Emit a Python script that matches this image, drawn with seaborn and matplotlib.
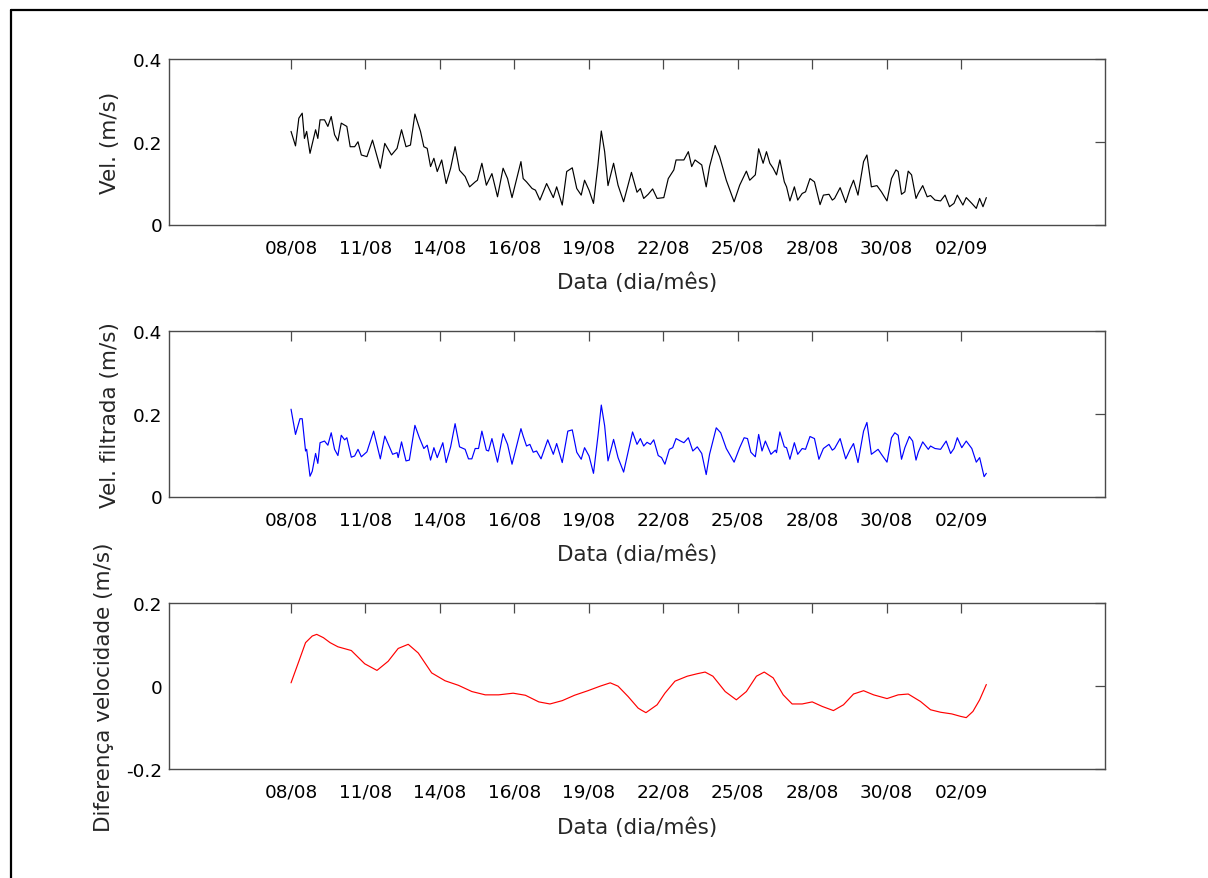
import numpy as np
import pandas as pd
import matplotlib
matplotlib.use("Agg")
import matplotlib.pyplot as plt
from matplotlib.lines import Line2D
import seaborn as sns

# ---------------- data ----------------
tick_labels = ["08/08", "11/08", "14/08", "16/08", "19/08",
               "22/08", "25/08", "28/08", "30/08", "02/09"]

# hours since the first tick (08/08)
vel_hours = [0, 4, 7, 10, 12, 14, 17, 22, 24, 26, 30, 33, 36, 39, 42, 45, 50, 53, 57, 60,
             63, 68, 73, 80, 84, 90, 95, 99, 103, 107, 111, 116, 119, 122, 125, 128, 131, 135, 139, 143,
             147, 151, 156, 160, 165, 167, 171, 175, 180, 185, 190, 194, 198, 206, 208, 211, 216, 219, 223, 229,
             235, 238, 243, 247, 252, 256, 260, 263, 267, 271, 275, 278, 281, 284, 289, 293, 298, 305, 310, 313,
             316, 320, 324, 328, 334, 338, 343, 345, 352, 356, 359, 362, 368, 372, 375, 380, 384, 390, 397, 402,
             408, 411, 416, 419, 423, 426, 429, 432, 435, 438, 442, 444, 447, 451, 454, 458, 461, 465, 469, 474,
             477, 482, 485, 487, 492, 497, 501, 504, 508, 513, 516, 520, 525, 529, 534, 538, 542, 544, 547, 550,
             553, 556, 560, 562, 566, 570, 573, 577, 582, 586, 590, 594, 597, 602, 605, 610, 614, 617, 620, 623]
vel_values = [0.225, 0.190, 0.257, 0.269, 0.208, 0.225, 0.172, 0.229, 0.208, 0.253, 0.253, 0.237, 0.261, 0.217, 0.202, 0.245, 0.237, 0.188, 0.188, 0.200,
              0.168, 0.164, 0.204, 0.136, 0.196, 0.168, 0.184, 0.229, 0.188, 0.192, 0.267, 0.225, 0.188, 0.184, 0.140, 0.160, 0.128, 0.156, 0.099, 0.136,
              0.188, 0.131, 0.116, 0.091, 0.103, 0.107, 0.148, 0.095, 0.123, 0.067, 0.136, 0.111, 0.065, 0.152, 0.111, 0.103, 0.087, 0.083, 0.059, 0.099,
              0.065, 0.091, 0.047, 0.128, 0.137, 0.087, 0.071, 0.107, 0.083, 0.051, 0.144, 0.226, 0.176, 0.094, 0.148, 0.095, 0.055, 0.126, 0.078, 0.087,
              0.063, 0.073, 0.086, 0.063, 0.065, 0.111, 0.132, 0.156, 0.156, 0.176, 0.140, 0.156, 0.144, 0.091, 0.140, 0.191, 0.164, 0.107, 0.055, 0.095,
              0.129, 0.107, 0.120, 0.183, 0.148, 0.176, 0.148, 0.136, 0.120, 0.156, 0.103, 0.091, 0.057, 0.091, 0.059, 0.075, 0.079, 0.111, 0.103, 0.048,
              0.071, 0.073, 0.059, 0.063, 0.089, 0.053, 0.087, 0.107, 0.071, 0.152, 0.168, 0.091, 0.094, 0.079, 0.057, 0.111, 0.132, 0.128, 0.073, 0.079,
              0.129, 0.120, 0.063, 0.075, 0.094, 0.067, 0.070, 0.059, 0.057, 0.071, 0.043, 0.051, 0.071, 0.047, 0.065, 0.051, 0.039, 0.063, 0.043, 0.065]

filt_hours = [0, 4, 8, 10, 13, 14, 17, 19, 22, 24, 26, 30, 33, 36, 39, 42, 45, 48, 50, 54,
              57, 60, 63, 68, 74, 80, 84, 91, 95, 96, 99, 103, 106, 111, 115, 119, 122, 125, 128, 131,
              136, 139, 143, 147, 151, 156, 159, 162, 165, 168, 171, 175, 177, 180, 185, 190, 194, 198, 206, 208,
              211, 214, 217, 220, 224, 230, 235, 238, 243, 248, 252, 256, 260, 263, 267, 271, 275, 278, 281, 284,
              289, 293, 298, 306, 310, 313, 316, 319, 322, 325, 329, 332, 335, 339, 342, 345, 349, 352, 356, 360,
              364, 368, 372, 375, 381, 385, 390, 397, 402, 406, 409, 412, 416, 419, 422, 425, 430, 434, 435, 438,
              442, 444, 447, 451, 454, 458, 461, 465, 469, 473, 477, 482, 485, 487, 492, 497, 501, 504, 508, 513,
              516, 520, 526, 529, 534, 538, 541, 544, 547, 550, 554, 557, 560, 562, 566, 571, 573, 577, 582, 587,
              591, 594, 597, 601, 605, 610, 614, 617, 621, 623]
filt_values = [0.211, 0.150, 0.188, 0.188, 0.110, 0.114, 0.049, 0.061, 0.104, 0.080, 0.130, 0.134, 0.124, 0.154, 0.114, 0.099, 0.148, 0.137, 0.142, 0.095,
               0.098, 0.114, 0.096, 0.108, 0.158, 0.091, 0.146, 0.102, 0.106, 0.094, 0.132, 0.086, 0.088, 0.172, 0.142, 0.116, 0.124, 0.088, 0.118, 0.094,
               0.130, 0.082, 0.120, 0.176, 0.120, 0.114, 0.091, 0.091, 0.116, 0.116, 0.158, 0.112, 0.110, 0.140, 0.083, 0.152, 0.126, 0.078, 0.164, 0.146,
               0.122, 0.126, 0.107, 0.110, 0.091, 0.137, 0.102, 0.128, 0.082, 0.158, 0.161, 0.107, 0.090, 0.118, 0.098, 0.056, 0.146, 0.221, 0.171, 0.086,
               0.138, 0.094, 0.059, 0.156, 0.126, 0.140, 0.122, 0.131, 0.126, 0.137, 0.099, 0.094, 0.078, 0.114, 0.118, 0.140, 0.134, 0.130, 0.142, 0.110,
               0.120, 0.104, 0.053, 0.102, 0.166, 0.154, 0.116, 0.083, 0.118, 0.142, 0.140, 0.107, 0.096, 0.150, 0.110, 0.134, 0.102, 0.112, 0.106, 0.156,
               0.120, 0.118, 0.090, 0.130, 0.102, 0.116, 0.114, 0.145, 0.140, 0.090, 0.116, 0.126, 0.112, 0.116, 0.140, 0.091, 0.114, 0.128, 0.082, 0.158,
               0.179, 0.102, 0.114, 0.102, 0.083, 0.142, 0.154, 0.148, 0.090, 0.118, 0.145, 0.134, 0.088, 0.107, 0.132, 0.114, 0.122, 0.116, 0.114, 0.134,
               0.104, 0.116, 0.142, 0.118, 0.134, 0.116, 0.083, 0.094, 0.048, 0.056]

diff_hours = [0, 7, 13, 19, 23, 29, 35, 42, 54, 66, 77, 87, 96, 105, 114, 126, 138, 150, 162, 174,
              186, 199, 210, 222, 232, 243, 254, 266, 277, 286, 293, 302, 311, 314, 318, 328, 335, 344, 355, 364,
              371, 378, 389, 399, 408, 417, 424, 432, 441, 449, 458, 467, 476, 486, 495, 504, 513, 522, 534, 544,
              553, 564, 573, 582, 592, 600, 605, 611, 617, 623]
diff_values = [0.008, 0.060, 0.105, 0.121, 0.125, 0.117, 0.105, 0.095, 0.086, 0.054, 0.038, 0.060, 0.091, 0.101, 0.080, 0.032, 0.013, 0.002, -0.013, -0.021,
               -0.021, -0.017, -0.022, -0.038, -0.043, -0.035, -0.022, -0.011, 0.000, 0.008, 0.000, -0.025, -0.053, -0.058, -0.064, -0.045, -0.017, 0.012, 0.024, 0.030,
               0.034, 0.024, -0.013, -0.033, -0.013, 0.024, 0.034, 0.020, -0.021, -0.043, -0.043, -0.038, -0.049, -0.059, -0.045, -0.019, -0.011, -0.021, -0.030, -0.021,
               -0.019, -0.037, -0.057, -0.063, -0.067, -0.073, -0.076, -0.061, -0.033, 0.004]

y_labels = ["Vel. (m/s)", "Vel. filtrada (m/s)", "Diferença velocidade (m/s)"]
x_label = "Data (dia/mês)"

# ---------------- styling ----------------
sns.set_style("white")
plt.rcParams['font.family'] = ['DejaVu Sans']
plt.rcParams['axes.unicode_minus'] = False

W, H = 1208, 879
fig = plt.figure(figsize=(W / 100, H / 100), dpi=100)

tick_step = 66.7          # hours between x ticks
xlim = (-109.8, 729.6)
ax_left, ax_right = 168.5, 1105.3
ax_rows = [(60.0, 225.5), (332.0, 497.5), (604.3, 770.0)]

series = [
    (vel_hours, vel_values, "black", (0, 0.4), [0, 0.2, 0.4], ["0", "0.2", "0.4"]),
    (filt_hours, filt_values, "blue", (0, 0.4), [0, 0.2, 0.4], ["0", "0.2", "0.4"]),
    (diff_hours, diff_values, "red", (-0.2, 0.2), [-0.2, 0, 0.2], ["-0.2", "0", "0.2"]),
]

spine_col = "#4a4a4a"
for (top, bot), (hx, vy, col, ylim, yt, ytl), ylab in zip(ax_rows, series, y_labels):
    ax = fig.add_axes([ax_left / W, 1 - bot / H, (ax_right - ax_left) / W, (bot - top) / H])
    df = pd.DataFrame({"h": hx, "v": vy})
    sns.lineplot(data=df, x="h", y="v", ax=ax, color=col, linewidth=0.85, estimator=None)
    ax.set_xlim(*xlim)
    ax.set_ylim(*ylim)
    ax.set_xticks(np.arange(len(tick_labels)) * tick_step)
    ax.set_xticklabels(tick_labels)
    ax.set_yticks(yt)
    ax.set_yticklabels(ytl)
    ax.tick_params(axis="both", direction="in", length=7, width=0.9, color=spine_col,
                   top=True, right=True, labelsize=13.3, labelcolor="black")
    ax.tick_params(axis="x", pad=10)
    ax.tick_params(axis="y", pad=4.5)
    for s in ax.spines.values():
        s.set_color(spine_col)
        s.set_linewidth(1.0)
        s.set_visible(True)
    ax.set_xlabel(x_label, fontsize=15.5, labelpad=11)
    ax.set_ylabel(ylab, fontsize=15.5, labelpad=9)
    ax.grid(False)

# outer frame (left and top edges, as in the reference)
fx, fy = 11 / W, 1 - 11 / H
fig.add_artist(Line2D([fx, fx], [0, fy], transform=fig.transFigure, color="black", lw=1.6))
fig.add_artist(Line2D([fx, 1], [fy, fy], transform=fig.transFigure, color="black", lw=1.6))

fig.savefig("out.png", dpi=100, facecolor="white")
